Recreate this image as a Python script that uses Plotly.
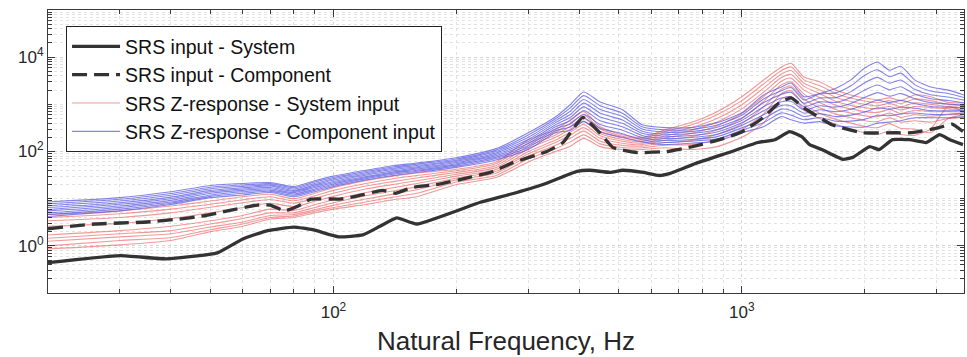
import plotly.graph_objects as go

# ---------------- data ----------------
# SRS input - System
sys_f = [20, 30, 39, 52, 60, 69, 80, 89, 103, 118, 130, 143, 160, 229, 271, 326, 395, 425, 476, 511,
         574, 628, 665, 780, 945, 1094, 1205, 1310, 1402, 1466, 1570, 1768, 1870, 2056, 2170, 2340,
         2575, 2830, 3050, 3230, 3480]
sys_v = [0.44, 0.62, 0.53, 0.71, 1.4, 2.1, 2.5, 2.2, 1.55, 1.7, 2.6, 3.9, 2.9, 8.4, 12.4, 20, 38, 40, 36, 40,
         36, 31, 34, 58, 100, 155, 178, 265, 207, 140, 110, 68, 75, 127, 110, 178,
         178, 155, 227, 178, 140]

# SRS input - Component
comp_f = [20, 26, 35, 42, 48, 55, 65, 70, 76, 82, 88, 104, 114, 132, 142, 156, 180, 214, 242, 275,
          333, 365, 408, 449, 484, 555, 655, 757, 882, 1000, 1120, 1234, 1320, 1420, 1485, 1662,
          1975, 2390, 2615, 3040, 3270, 3480]
comp_v = [2.3, 2.9, 3.2, 3.7, 4.3, 5.5, 7.3, 7.3, 5.5, 7.0, 9.8, 9.8, 11.3, 15, 13, 17.4, 20, 28, 36, 58,
          100, 155, 530, 250, 121, 95, 100, 127, 178, 260, 500, 1070, 1370, 840, 660, 370,
          250, 250, 250, 320, 380, 265]

# common frequency grid for the Z-responses
resp_f = [20, 30, 40, 50, 60, 70, 80, 90, 100, 120, 140, 160, 200, 250, 300, 350, 380, 410, 450, 510,
          570, 650, 750, 870, 1000, 1130, 1250, 1320, 1420, 1550, 1700, 1850, 2000, 2150, 2300, 2450,
          2650, 2900, 3200, 3500]

# SRS Z-response - System input (red)
red_1 = [4.6, 5.5, 7, 8.9, 11, 12.4, 10, 13, 17, 24, 30, 35, 42, 60, 178, 290, 470, 700, 335, 227,
         200, 290, 410, 700, 1450, 3270, 6200, 7400, 3800, 3000, 2000, 1580, 1370, 1250, 1370, 1200,
         1580, 1450, 1100, 1070]
red_2 = [4.0, 4.8, 6, 7.6, 9.5, 11, 9, 11.5, 15, 21, 26.5, 31, 39, 55, 150, 255, 400, 600, 300, 210,
         188, 265, 365, 600, 1200, 2700, 5200, 6200, 3300, 2500, 1700, 1350, 1180, 1080, 1200, 1030,
         1300, 1200, 1000, 960]
red_3 = [3.4, 4.0, 5, 6.6, 8.2, 9.6, 8, 10.2, 13, 18.5, 23, 27.5, 36, 50, 130, 225, 340, 510, 270, 195,
         175, 240, 320, 500, 980, 2200, 4400, 5200, 2800, 2050, 1400, 1150, 1000, 930, 1050, 880,
         1080, 1000, 900, 860]
red_4 = [2.6, 3.0, 3.8, 5.0, 6.5, 8.0, 6.8, 8.8, 11.2, 16, 20, 24, 33, 45.5, 115, 200, 295, 440, 240, 180,
         162, 215, 280, 420, 800, 1800, 3700, 4300, 2400, 1700, 1150, 950, 850, 800, 900, 760,
         900, 850, 800, 770]
red_5 = [1.7, 2.1, 2.6, 3.4, 4.4, 6.0, 5.6, 7.4, 9.5, 13.5, 17, 21, 30, 41.5, 100, 175, 255, 375, 215, 165,
         150, 195, 240, 350, 640, 1450, 3100, 3600, 2000, 1400, 950, 800, 700, 670, 780, 640,
         750, 700, 700, 690]
red_6 = [1.45, 1.8, 2.1, 2.9, 3.8, 5.0, 5.0, 6.5, 8.2, 11.5, 14.5, 18, 27.5, 38, 90, 155, 220, 320, 190, 150,
         140, 175, 205, 285, 500, 1150, 2600, 3000, 1650, 1100, 780, 650, 570, 550, 650, 530,
         600, 560, 600, 610]
red_7 = [1.25, 1.55, 1.8, 2.5, 3.2, 4.4, 4.6, 5.8, 7.2, 9.8, 12.5, 15.5, 25, 34.5, 80, 135, 190, 270, 165, 135,
         130, 155, 170, 230, 390, 880, 2100, 2450, 1300, 850, 620, 520, 450, 430, 520, 420,
         450, 420, 500, 530]
red_8 = [1.0, 1.3, 1.5, 2.2, 2.9, 4.0, 4.3, 5.4, 6.5, 8.5, 10.8, 13, 22.5, 31, 70, 115, 160, 225, 145, 122,
         120, 137, 140, 175, 290, 620, 1700, 1950, 1000, 650, 480, 400, 340, 320, 390, 310,
         300, 250, 500, 600]
red_9 = [0.86, 1.05, 1.3, 2.0, 2.6, 3.7, 4.0, 5.0, 6.0, 7.5, 9.5, 11, 20, 28, 60, 100, 130, 190, 127, 110,
         110, 120, 110, 127, 200, 400, 1300, 1450, 770, 500, 380, 300, 250, 230, 270, 230,
         220, 300, 900, 700]

# SRS Z-response - Component input (blue)
blue_1 = [8.5, 10.5, 14, 19, 21, 22, 18, 24, 30, 40, 50, 57, 74, 115, 250, 545, 980, 1830, 1120, 770,
          370, 320, 320, 410, 660, 1580, 2330, 2840, 1450, 1700, 2200, 3300, 5900, 7800, 5300, 6400,
          3300, 2330, 2000, 1580]
blue_2 = [7.8, 9.7, 12.9, 17.5, 19.5, 20.8, 17, 22.5, 28, 37.6, 47, 54, 69.5, 107, 225, 495, 840, 1530, 935, 650,
          333, 287, 290, 366, 585, 1300, 1950, 2270, 1235, 1650, 1750, 2470, 4120, 5390, 3860, 4590,
          2620, 1925, 1690, 1390]
blue_3 = [7.1, 8.9, 11.8, 16.2, 18.2, 19.6, 16, 21, 26.4, 35.4, 44, 50.5, 65.5, 100, 200, 450, 715, 1270, 780, 550,
          300, 258, 264, 327, 515, 1075, 1625, 1810, 1050, 1365, 1390, 1860, 2880, 3720, 2810, 3290,
          2080, 1590, 1430, 1225]
blue_4 = [6.5, 8.2, 10.8, 15, 17, 18.5, 15, 19.6, 24.8, 33.4, 41.5, 47.5, 62, 93, 180, 410, 610, 1060, 650, 465,
          270, 232, 240, 292, 455, 885, 1360, 1450, 895, 1130, 1100, 1390, 2010, 2570, 2045, 2360,
          1650, 1315, 1210, 1080]
blue_5 = [5.9, 7.6, 10.0, 14, 16, 17.3, 14.2, 18.4, 23.2, 31.4, 39, 45, 58.5, 87, 163, 370, 525, 885, 540, 395,
          243, 210, 218, 260, 405, 730, 1130, 1160, 760, 930, 875, 1045, 1400, 1775, 1490, 1690,
          1310, 1085, 1020, 950]
blue_6 = [5.5, 7.0, 9.2, 13, 15, 16.2, 13.4, 17.2, 21.8, 29.6, 36.8, 42.5, 55, 81, 148, 335, 450, 740, 450, 335,
          219, 190, 198, 233, 358, 600, 945, 925, 650, 770, 695, 785, 980, 1225, 1085, 1215,
          1040, 900, 865, 835]
blue_7 = [5.0, 6.5, 8.5, 12, 14, 15.2, 12.6, 16, 20.4, 27.9, 34.8, 40, 52, 76, 134, 305, 385, 615, 375, 282,
          197, 171, 180, 207, 317, 495, 790, 740, 553, 635, 550, 590, 685, 845, 790, 870,
          825, 740, 730, 735]
blue_8 = [4.6, 6.0, 8.0, 11.2, 13, 14.3, 11.8, 15, 19.2, 26.4, 32.8, 38, 49, 71, 122, 275, 330, 515, 312, 238,
          178, 155, 165, 185, 282, 408, 660, 590, 470, 525, 440, 440, 480, 585, 575, 625,
          655, 612, 617, 650]
blue_9 = [4.2, 5.5, 7.5, 10.5, 12, 13.5, 11, 14, 18, 25, 31, 36, 46, 66, 110, 250, 280, 430, 260, 200,
          160, 140, 150, 165, 250, 335, 550, 470, 400, 430, 350, 330, 330, 400, 420, 450,
          520, 520, 520, 550]

red_curves = [red_1, red_2, red_3, red_4, red_5, red_6, red_7, red_8, red_9]
blue_curves = [blue_1, blue_2, blue_3, blue_4, blue_5, blue_6, blue_7, blue_8, blue_9]

x_tick_vals = [100, 1000]
x_tick_text = ["10<sup>2</sup>", "10<sup>3</sup>"]
y_tick_vals = [1, 100, 10000]
y_tick_text = ["10<sup>0</sup>", "10<sup>2</sup>", "10<sup>4</sup>"]

# ---------------- figure ----------------
FONT = "Liberation Sans, Arial, Helvetica, sans-serif"
RED = "rgba(232,90,90,0.62)"
BLUE = "rgba(85,85,225,0.72)"
DARK = "#333333"
SMOOTH = 0.6

fig = go.Figure()

for i, c in enumerate(red_curves):
    fig.add_trace(go.Scatter(x=resp_f, y=c, mode="lines",
                             line=dict(color=RED, width=1.1, shape="spline", smoothing=SMOOTH),
                             name="SRS Z-response - System input", legendgroup="red",
                             showlegend=(i == 0), legendrank=3))
for i, c in enumerate(blue_curves):
    fig.add_trace(go.Scatter(x=resp_f, y=c, mode="lines",
                             line=dict(color=BLUE, width=1.1, shape="spline", smoothing=SMOOTH),
                             name="SRS Z-response - Component input", legendgroup="blue",
                             showlegend=(i == 0), legendrank=4))

fig.add_trace(go.Scatter(x=comp_f, y=comp_v, mode="lines",
                         line=dict(color=DARK, width=3.3, dash="15px,7px", shape="spline", smoothing=0.4),
                         name="SRS input - Component", legendrank=2))
fig.add_trace(go.Scatter(x=sys_f, y=sys_v, mode="lines",
                         line=dict(color=DARK, width=3.3, shape="spline", smoothing=0.4),
                         name="SRS input - System", legendrank=1))

def minor_vals(lo, hi):
    out = []
    for e in range(lo, hi + 1):
        for m in range(1, 10):
            out.append(m * 10 ** e)
    return out

x_minor = [v for v in minor_vals(1, 3) if 20 <= v <= 3500 and v not in x_tick_vals]
y_minor = [v for v in minor_vals(-1, 5) if 0.1 <= v <= 100000 and v not in y_tick_vals]

axis_common = dict(
    type="log", showline=True, linecolor="#3a3a3a", linewidth=1, mirror="allticks",
    ticks="inside", ticklen=7, tickwidth=1, tickcolor="#3a3a3a",
    showgrid=True, gridcolor="#d4d4d4", griddash="dot", gridwidth=1,
    tickfont=dict(family=FONT, size=17, color="#262626"),
    zeroline=False,
)

fig.update_xaxes(
    **axis_common,
    range=[1.30103, 3.5441],
    tickmode="array", tickvals=x_tick_vals, ticktext=x_tick_text,
    minor=dict(tickmode="array", tickvals=x_minor, ticks="inside", ticklen=4,
               tickcolor="#3a3a3a", showgrid=True, gridcolor="#e2e2e2", griddash="dot"),
    ticklabelstandoff=4,
    title=dict(text="Natural Frequency, Hz", font=dict(family=FONT, size=26, color="#262626"),
               standoff=10),
)
fig.update_yaxes(
    **axis_common,
    range=[-1, 5],
    tickmode="array", tickvals=y_tick_vals, ticktext=y_tick_text,
    minor=dict(tickmode="array", tickvals=y_minor, ticks="inside", ticklen=4,
               tickcolor="#3a3a3a", showgrid=True, gridcolor="#e2e2e2", griddash="dot"),
)

fig.update_layout(
    width=967, height=357,
    margin=dict(l=48, r=3, t=10, b=64),
    paper_bgcolor="white", plot_bgcolor="white",
    font=dict(family=FONT, color="#111111"),
    legend=dict(x=0.0197, y=0.943, xanchor="left", yanchor="top",
                bgcolor="white", bordercolor="#222222", borderwidth=1,
                font=dict(family=FONT, size=19.5, color="#111111"),
                tracegroupgap=0, itemwidth=48),
    showlegend=True,
)

fig.write_html("out.html")
